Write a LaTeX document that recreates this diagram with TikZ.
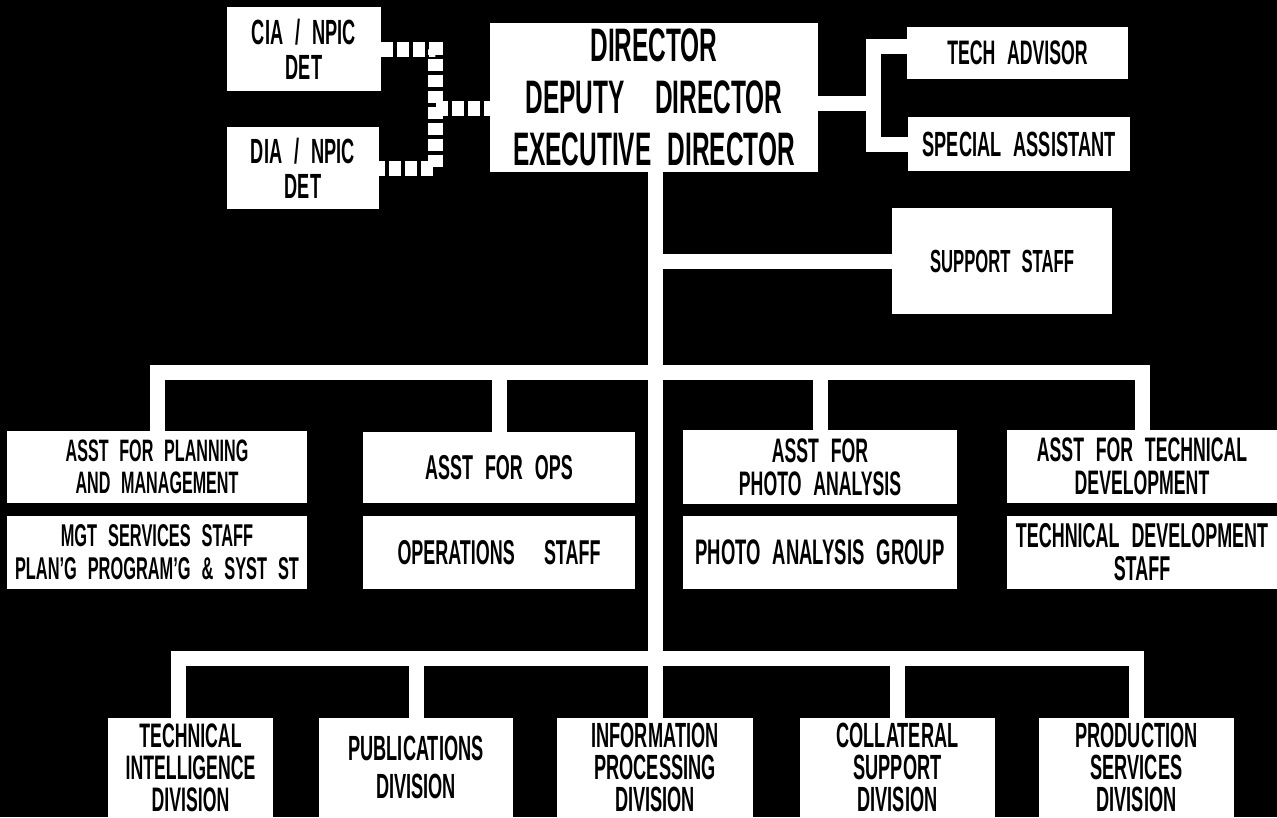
\documentclass[tikz,border=0pt]{standalone}
\usepackage{fontspec}
\setmainfont{Liberation Sans}[FakeStretch=0.52,WordSpace=2.4]
\begin{document}
\begin{tikzpicture}[x=1pt,y=-1pt,
  box/.style={rectangle, fill=white, inner sep=0pt, align=center, text=black},
  sz/.style 2 args={font=\bfseries\fontsize{#1}{#2}\selectfont},
  conn/.style={draw=white, line width=15pt, line join=miter},
  dconn/.style={conn, dash pattern=on 12pt off 4pt}]
\fill[black] (0,0) rectangle (1277,817);
\useasboundingbox (0,0) rectangle (1277,817);

% top row
\node[box, sz={35}{35}, minimum width=154pt, minimum height=84pt] (cia) at (304,49) {CIA / NPIC\\DET};
\node[box, sz={35}{35}, minimum width=152pt, minimum height=82pt] (dia) at (303,168) {DIA / NPIC\\DET};
\node[box, sz={47}{52}, minimum width=328pt, minimum height=149pt] (dir) at (654,97.5) {DIRECTOR\\DEPUTY\hspace{0.3em} DIRECTOR\\EXECUTIVE DIRECTOR};
\node[box, sz={34}{40}, minimum width=221pt, minimum height=52pt] (tech) at (1017.5,53) {TECH ADVISOR};
\node[box, sz={35}{40}, minimum width=222pt, minimum height=54pt] (spec) at (1019,144) {SPECIAL ASSISTANT};
\node[box, sz={32}{40}, minimum width=220pt, minimum height=106pt] (supp) at (1002,261) {SUPPORT STAFF};

% second row
\node[box, sz={31}{32}, minimum width=300pt, minimum height=72pt] (plan) at (157,467) {ASST FOR PLANNING\\AND MANAGEMENT};
\node[box, sz={31.5}{33}, minimum width=300pt, minimum height=73pt] (mgt) at (157,552.5) {MGT SERVICES STAFF\\PLAN'G PROGRAM'G \& SYST ST};
\node[box, sz={34.5}{36}, minimum width=272pt, minimum height=71pt] (ops) at (499,467.5) {ASST FOR OPS};
\node[box, sz={34.5}{36}, minimum width=272pt, minimum height=73pt] (opst) at (499,552.5) {OPERATIONS\hspace{0.5em} STAFF};
\node[box, sz={34}{33}, minimum width=274pt, minimum height=74pt] (photo) at (820,467) {ASST FOR\\PHOTO ANALYSIS};
\node[box, sz={35.5}{36}, minimum width=274pt, minimum height=73pt] (pgr) at (820,552.5) {PHOTO ANALYSIS GROUP};
\node[box, sz={34}{33}, minimum width=270pt, minimum height=73pt] (tdev) at (1142,466.5) {ASST FOR TECHNICAL\\DEVELOPMENT};
\node[box, sz={34.5}{33}, minimum width=270pt, minimum height=73pt] (tdst) at (1142,552.5) {TECHNICAL DEVELOPMENT\\STAFF};

% bottom row
\node[box, sz={34}{32}, minimum width=165pt, minimum height=99pt] (tid) at (190.5,767.5) {TECHNICAL\\INTELLIGENCE\\DIVISION};
\node[box, sz={35}{38}, minimum width=194pt, minimum height=99pt] (pub) at (416,767.5) {PUBLICATIONS\\DIVISION};
\node[box, sz={35}{32}, minimum width=196pt, minimum height=99pt] (info) at (655,767.5) {INFORMATION\\PROCESSING\\DIVISION};
\node[box, sz={35}{32}, minimum width=195pt, minimum height=99pt] (coll) at (897.5,767.5) {COLLATERAL\\SUPPORT\\DIVISION};
\node[box, sz={35}{32}, minimum width=195pt, minimum height=99pt] (prod) at (1136.5,767.5) {PRODUCTION\\SERVICES\\DIVISION};

% connectors
\coordinate (dj) at (435.5,108);
\draw[dconn] (cia.east) -| (dj |- dia.east) -- (dia.east);
\draw[dconn] (dj) -- (dj -| dir.west);

\coordinate (tj) at (873,103);
\draw[conn] ([yshift=7pt]tech.west) -| (tj |- spec.west) -- (spec.west);
\draw[conn] (dir.east |- tj) -- (tj);

\coordinate (b2) at (655,372);
\coordinate (b3) at (655,658);
\draw[conn] (info.north |- dir.south) -- (info.north);
\draw[conn] (supp.west) -- (supp.west -| b2);
\draw[conn] (plan.north) |- (b2) -| (tdev.north);
\draw[conn] (ops.north) -- (ops.north |- b2);
\draw[conn] (photo.north) -- (photo.north |- b2);
\draw[conn] ([xshift=-12pt]tid.north) |- (b3) -| (prod.north);
\draw[conn] (pub.north) -- (pub.north |- b3);
\draw[conn] (coll.north) -- (coll.north |- b3);
\end{tikzpicture}
\end{document}
